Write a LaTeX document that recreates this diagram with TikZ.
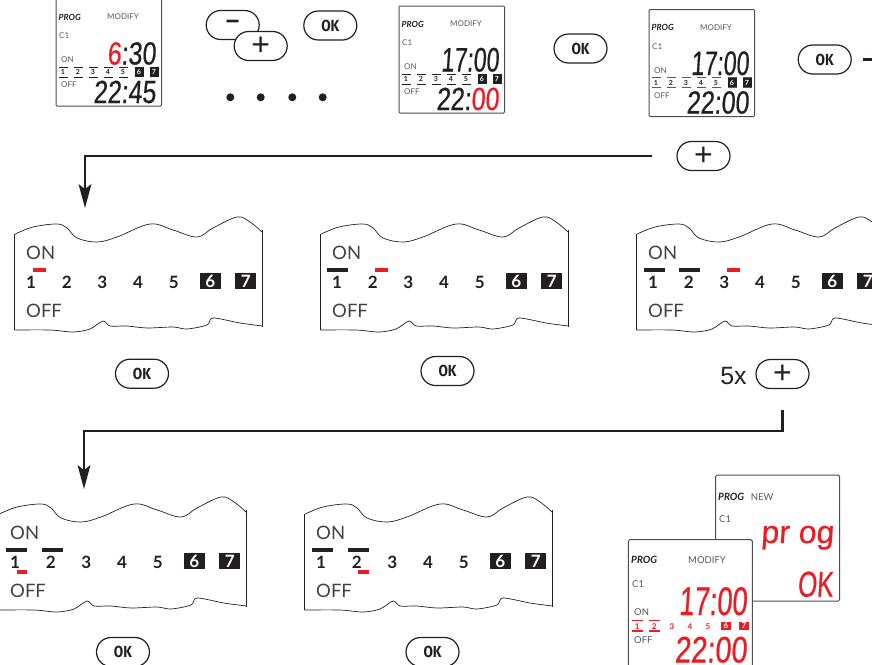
\documentclass[tikz,border=0pt]{standalone}
\usepackage{fontspec}
\setmainfont{Lato}
\newfontfamily\lcdfam[FakeSlant=0.07,FakeStretch=0.78,FakeBold=0.5]{Liberation Sans}
\newfontfamily\lcdtallfam[FakeSlant=0.07,FakeStretch=0.68,FakeBold=0.5]{Liberation Sans}
\newfontfamily\lcdwidefam[FakeSlant=0.07,FakeStretch=1.0,FakeBold=0.5]{Liberation Sans}
\newfontfamily\keyfam[FakeStretch=0.85]{Fira Sans}
\newfontfamily\signfam{Liberation Sans}
\newcommand{\lcdsmall}{\lcdfam\fontsize{32}{32}\selectfont}
\newcommand{\lcdtall}{\lcdtallfam\fontsize{34}{34}\selectfont}
\definecolor{lcdred}{HTML}{ED1C24}
\definecolor{lcdink}{HTML}{231F20}
\definecolor{lcdgrey}{HTML}{58595B}
\tikzset{
    keybtn/.style={draw=lcdink, line width=1.2pt, fill=white, rounded corners=14.5pt,
        minimum width=53pt, minimum height=29pt, inner sep=0pt},
    oktext/.style={keybtn, font=\keyfam\fontsize{16}{16}\selectfont\bfseries, text=lcdink},
    plustext/.style={keybtn, font=\signfam\fontsize{32}{32}\selectfont, text=lcdink},
    flowline/.style={draw=lcdink, line width=2.4pt},
    lcdlabel/.style={anchor=west, inner sep=0pt, text=lcdgrey, font=\fontsize{8}{8}\selectfont},
    proglabel/.style={anchor=west, inner sep=0pt, text=lcdink, font=\fontsize{8.5}{8.5}\selectfont\bfseries\itshape},
    daydigit/.style={inner sep=0pt, text=lcdink, font=\fontsize{7}{7}\selectfont\bfseries},
    panellabel/.style={anchor=west, inner sep=0pt, text=lcdink!85, font=\fontsize{18.5}{18.5}\selectfont},
    paneldigit/.style={inner sep=0pt, text=lcdink, font=\fontsize{17}{17}\selectfont\bfseries},
    panelblock/.style={paneldigit, fill=lcdink, text=white, minimum width=21pt, minimum height=16.5pt},
}
\begin{document}
\begin{tikzpicture}[x=1pt, y=-1pt]
    \clip (0, 0) rectangle (872, 664);

    % Top row of displays
    \foreach \n/\bx/\by/\upfont/\upper/\lower/\dashcol in {
        a/56/-1/\lcdsmall/{{\color{lcdred}6}:30}/{22:45}/lcdink,
        b/399/6/\lcdtall/{17:00}/{22:{\color{lcdred}00}}/lcdink,
        c/649/9.5/\lcdtall/{17:00}/{22:00}/lcdred} {
        \begin{scope}[shift={(\bx, \by)}]
            \draw[draw=lcdink!80, line width=1pt, rounded corners=1pt, fill=white] (0, 0) rectangle (105.5, 107);
            \node[proglabel] (prog\n) at (2.5, 18) {PROG};
            \node[lcdlabel, anchor=center] (mode\n) at (67, 18) {MODIFY};
            \node[lcdlabel] (chan\n) at (3, 37) {C1};
            \node[lcdlabel] (on\n) at (5, 61) {ON};
            \node[lcdlabel] (off\n) at (5, 86) {OFF};
            \node[anchor=base east, inner sep=0pt, text=lcdink, font=\upfont] (up\n) at (100, 65.5) {\upper};
            \node[anchor=base east, inner sep=0pt, text=lcdink, font=\lcdsmall] (low\n) at (100, 104) {\lower};
            \foreach \k/\dx in {1/7, 2/22, 3/37, 4/52, 5/67} {
                \node[daydigit] (day\n\k) at (\dx, 73) {\k};
                \fill[fill=\dashcol] (\dx-4.5, 67.5) rectangle ++(9, 1.2);
                \fill[fill=\dashcol] (\dx-4.5, 77.5) rectangle ++(9, 1.2);
            }
            \foreach \k/\dx in {6/83, 7/98} {
                \node[daydigit, fill=lcdink, text=white, minimum width=9pt, minimum height=10.5pt] (day\n\k) at (\dx, 73) {\k};
            }
        \end{scope}
    }
    % red bars over the two blocks of the third display
    \foreach \dx in {732, 747} {
        \fill[lcdred] (\dx-4.5, 77) rectangle ++(9, 1.2);
        \fill[lcdred] (\dx-4.5, 87) rectangle ++(9, 1.2);
    }

    % Buttons of the top row
    \node[keybtn, font=\signfam\fontsize{24}{24}\selectfont\bfseries, text=lcdink] (minusa) at (232.7, 25) {−};
    \node[plustext] (plusa) at (260.7, 46) {+};
    \node[oktext] (oka) at (330.3, 25.5) {OK};
    \node[oktext] (okb) at (580.5, 48.5) {OK};
    \node[oktext] (okc) at (824.7, 59.5) {OK};
    \node[plustext] (plusb) at (703.5, 156) {+};
    \foreach \i/\dx in {1/230.3, 2/260.7, 3/292.3, 4/322.7} {
        \node[circle, fill=lcdink, inner sep=0pt, minimum size=8pt] (dot\i) at (\dx, 97.3) {};
    }

    % Connectors
    \coordinate (stub) at (874, 59.5);
    \coordinate (tipa) at (85, 208);
    \coordinate (bendb) at (84, 431);
    \coordinate (tipb) at (84, 489);
    \draw[flowline, shorten <=11pt] (okc.east) -- (stub);
    \draw[flowline, shorten <=24pt, shorten >=12pt] (plusb.west) -| (tipa);
    \fill[lcdink] (tipa) -- ++(-6.5, -24) -- ++(6.5, 5) -- ++(6.5, -5) -- cycle;

    % Torn panels
    \foreach \n/\dx/\dy in {a/0/0, b/306/0, c/622/0, d/-16/280, e/290/280} {
        \begin{scope}[shift={(\dx, \dy)}]
            \draw[draw=lcdink, line width=0.7pt] plot[smooth, tension=0.6] coordinates {
                (14.7,234.3) (33,227) (57,224) (67,228) (77,238) (97,242) (117,237) (150,224)
                (173,230) (197,237) (213,228) (237,217) (250,222) (262,232)};
            \draw[draw=lcdink, line width=0.7pt] plot[smooth, tension=0.5] coordinates {
                (262,326) (240,323) (213,318) (207,325) (187,329) (173,327) (147,328) (127,326)
                (110,326) (103,321) (90,329) (73,332) (50,330) (14.7,330)};
            \draw[draw=lcdink, line width=1pt] (14.7, 330) -- (14.7, 234.3);
            \draw[draw=lcdink, line width=1pt] (262, 230) -- (262, 326.5);
            \node[panellabel] (pon\n) at (26, 253) {ON};
            \node[panellabel] (poff\n) at (26, 311) {OFF};
            \foreach \k/\ox in {1/31, 2/66.7, 3/102.3, 4/138, 5/173.7} {
                \node[paneldigit] (pday\n\k) at (\ox, 282) {\k};
            }
            \foreach \k/\ox in {6/210.3, 7/245.7} {
                \node[panelblock] (pday\n\k) at (\ox, 281) {\k};
            }
        \end{scope}
    }

    % Day bars
    \fill[lcdred] (33, 268) rectangle ++(13, 3.5);
    \fill[lcdink] (327, 268) rectangle ++(21, 3.5);
    \fill[lcdred] (375, 268) rectangle ++(13, 3.5);
    \foreach \bx in {644, 679} {
        \fill[lcdink] (\bx, 268) rectangle ++(21, 3.5);
    }
    \fill[lcdred] (727, 268) rectangle ++(13, 3.5);
    \foreach \bx in {6, 42, 312, 348} {
        \fill[lcdink] (\bx, 548) rectangle ++(21, 3.5);
    }
    \fill[lcdred] (17, 570) rectangle ++(10, 3.5);
    \fill[lcdred] (358, 570) rectangle ++(11, 3.5);

    % Buttons below the panels
    \node[oktext] (okd) at (142, 373.7) {OK};
    \node[oktext] (oke) at (447.5, 371) {OK};
    \node[plustext] (plusc) at (782.5, 374) {+};
    \node[inner sep=0pt, text=lcdink, font=\signfam\fontsize{25}{25}\selectfont] (times) at (733.5, 376.5) {5x};
    \node[oktext] (okf) at (123, 652) {OK};
    \node[oktext] (okg) at (432.5, 652) {OK};
    \draw[flowline, shorten <=21pt] (plusc.south) |- (bendb) -- ([yshift=12pt]tipb);
    \fill[lcdink] (tipb) -- ++(-6.5, -24) -- ++(6.5, 5) -- ++(6.5, -5) -- cycle;

    % Back display
    \draw[draw=lcdink!80, line width=1pt, rounded corners=1.5pt, fill=white] (715.7, 475) rectangle (839.7, 601);
    \node[proglabel, font=\fontsize{10}{10}\selectfont\bfseries\itshape] (progn) at (718, 496.7) {PROG};
    \node[lcdlabel, font=\fontsize{9.5}{9.5}\selectfont] (moden) at (750.7, 496.7) {NEW};
    \node[lcdlabel, font=\fontsize{9.5}{9.5}\selectfont] (chann) at (719, 519) {C1};
    \node[anchor=base east, inner sep=0pt, text=lcdred, font=\lcdwidefam\fontsize{32}{32}\selectfont] (upn) at (834, 543) {pr og};
    \node[anchor=base east, inner sep=0pt, text=lcdred, font=\lcdtallfam\fontsize{36}{36}\selectfont] (lown) at (833, 596.7) {OK};

    % Front display
    \draw[draw=lcdink!80, line width=1pt, rounded corners=1.5pt, fill=white] (628.3, 539.7) rectangle (752.3, 680);
    \node[proglabel, font=\fontsize{10}{10}\selectfont\bfseries\itshape] (progf) at (631, 560) {PROG};
    \node[lcdlabel, anchor=center, font=\fontsize{9.5}{9.5}\selectfont] (modef) at (707, 560) {MODIFY};
    \node[lcdlabel, font=\fontsize{9.5}{9.5}\selectfont] (chanf) at (632, 584) {C1};
    \node[lcdlabel, font=\fontsize{9.5}{9.5}\selectfont] (onf) at (634, 611.7) {ON};
    \node[lcdlabel, font=\fontsize{9.5}{9.5}\selectfont] (offf) at (634, 640) {OFF};
    \node[anchor=base east, inner sep=0pt, text=lcdred, font=\lcdtallfam\fontsize{40}{40}\selectfont] (upf) at (747, 615) {17:00};
    \node[anchor=base east, inner sep=0pt, text=lcdred, font=\lcdfam\fontsize{37}{37}\selectfont] (lowf) at (747, 662.5) {22:00};
    \foreach \k/\ox in {1/637.3, 2/654.3, 3/672, 4/690, 5/708} {
        \node[daydigit, text=lcdred, font=\fontsize{8}{8}\selectfont\bfseries] (dayf\k) at (\ox, 627) {\k};
    }
    \foreach \k/\ox in {6/726, 7/744} {
        \node[daydigit, fill=lcdred, text=white, font=\fontsize{8}{8}\selectfont\bfseries, minimum width=10.5pt, minimum height=8.5pt] (dayf\k) at (\ox, 626) {\k};
    }
    \foreach \bx in {632, 649} {
        \fill[lcdred] (\bx, 619.5) rectangle ++(11, 1.3);
        \fill[lcdred] (\bx, 630.2) rectangle ++(11, 1.3);
    }
\end{tikzpicture}
\end{document}
